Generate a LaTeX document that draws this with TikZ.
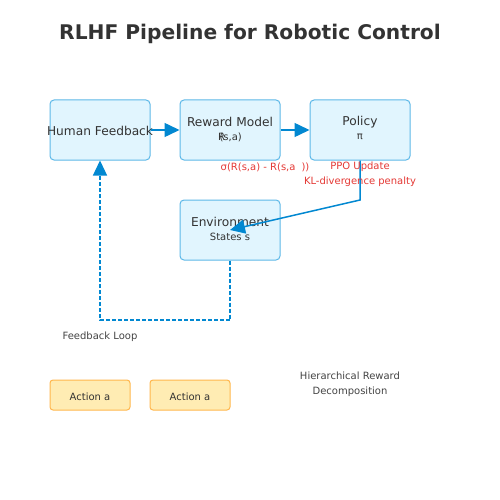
\documentclass[tikz,border=0pt]{standalone}
\usepackage{fontspec}
\setmainfont{DejaVu Sans}
\usetikzlibrary{arrows.meta}
\definecolor{boxfill}{HTML}{E1F5FE}
\definecolor{boxline}{HTML}{5DB8E8}
\definecolor{arrowc}{HTML}{0288D1}
\definecolor{actfill}{HTML}{FFECB3}
\definecolor{actline}{HTML}{FFB74D}
\definecolor{redt}{HTML}{E53935}
\definecolor{txt}{HTML}{333333}
\definecolor{gtxt}{HTML}{444444}
\begin{document}
\begin{tikzpicture}[x=1pt,y=-1pt,
  bluebox/.style={draw=boxline,fill=boxfill,line width=1pt,rounded corners=4pt,minimum width=100pt,minimum height=60pt,inner sep=0pt},
  actbox/.style={draw=actline,fill=actfill,line width=1pt,rounded corners=3pt,minimum width=80pt,minimum height=30pt,inner sep=0pt},
  conn/.style={draw=arrowc,line width=1.5pt,-{Triangle[length=15pt,width=14pt]}},
  dconn/.style={draw=arrowc,line width=1.3pt,dash pattern=on 4pt off 2pt,-{Triangle[length=15pt,width=14pt]}},
  main/.style={font=\fontsize{12.2}{14}\selectfont,text=txt},
  sub/.style={font=\fontsize{10}{12}\selectfont,text=txt},
  redl/.style={font=\fontsize{10}{12}\selectfont,text=redt},
  note/.style={font=\fontsize{10}{12}\selectfont,text=gtxt}]
\useasboundingbox[fill=white] (0,0) rectangle (500,500);
\node[font=\bfseries\fontsize{20.2}{24}\selectfont,text=txt] (title) at (250,33.5) {RLHF Pipeline for Robotic Control};
\node[bluebox] (hf) at (100,130) {};
\node[bluebox] (rm) at (230,130) {};
\node[bluebox] (pol) at (360,130) {};
\node[bluebox] (env) at (230,230) {};
\node[actbox] (a1) at (90,395) {};
\node[actbox] (a2) at (190,395) {};
\node[main] (hft) at (100,131) {Human Feedback};
\node[main] (rmt) at (230,122) {Reward Model};
\node[sub] (rms) at (230,137) {R\kern-0.55em(s,a)};
\node[main] (polt) at (360,122) {Policy};
\node[sub] (pols) at (360,137) {π};
\node[main] (envt) at (230,222) {Environment};
\node[sub] (envs) at (230,237) {States s};
\node[sub] (a1t) at (90,397) {Action a};
\node[sub] (a2t) at (190,397) {Action a};
\draw[conn] (hf.east) -- (rm.west);
\draw[conn] (rm.east) -- (pol.west);
\coordinate (pc) at (360,200);
\coordinate (et) at (230,230);
\draw[conn] (pol.south) -- (pc) -- (et);
\coordinate (d1) at (230,320);
\coordinate (d2) at (100,320);
\draw[dconn] (env.south) -- (d1) -- (d2) -- (hf.south);
\node[redl] (sig) at (265,167) {σ(R(s,a) - R(s,a\hspace{0.6em}))};
\node[redl] (ppo) at (360,167) {PPO Update};
\node[redl] (kl) at (360,182) {KL-divergence penalty};
\node[note] (fl) at (100,337) {Feedback Loop};
\node[note,align=center] (hr) at (350,384.5) {Hierarchical Reward\\[3pt]Decomposition};
\end{tikzpicture}
\end{document}
